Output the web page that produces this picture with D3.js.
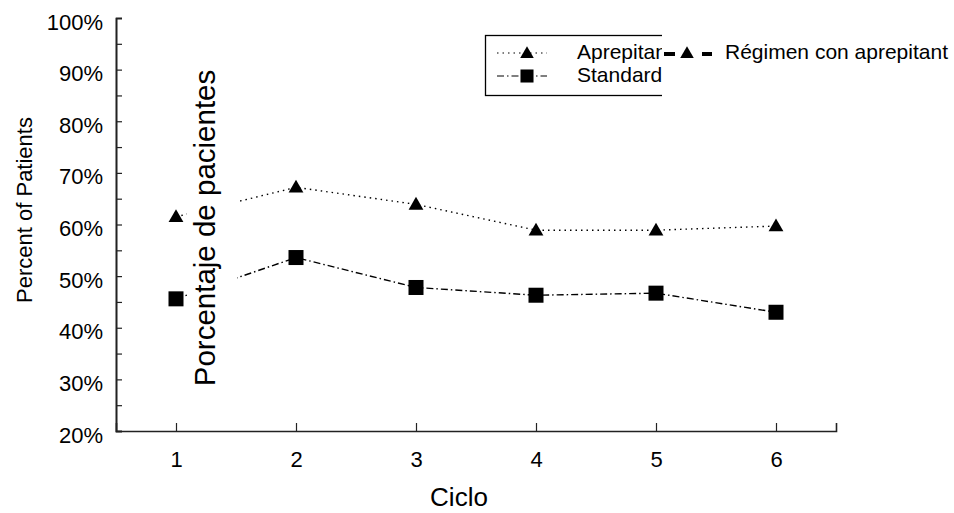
<!DOCTYPE html>
<html>
<head>
<meta charset="utf-8">
<script src="https://cdn.jsdelivr.net/npm/d3@7"></script>
<style>
  body { margin: 0; background: #fff; }
  text { font-family: "Liberation Sans", Arial, sans-serif; fill: #000; }
</style>
</head>
<body>
<script>
var cycles = [1, 2, 3, 4, 5, 6];
var aprepitant = [61.5, 67.2, 63.9, 58.9, 58.9, 59.7];
var standard = [45.6, 53.6, 47.8, 46.3, 46.7, 43.0];
var yMajor = [20, 30, 40, 50, 60, 70, 80, 90, 100];
var yMinor = [25, 35, 45, 55, 65, 75, 85, 95];
var seriesNames = ["Aprepitant", "Standard"];

var w = 954, h = 513;
var margin = { top: 18, right: 118, bottom: 82, left: 116 };

var svg = d3.select("body").append("svg")
    .attr("width", w)
    .attr("height", h);

var xScale = d3.scaleLinear()
    .domain([0.5, 6.5])
    .range([margin.left, w - margin.right]);
var yScale = d3.scaleLinear()
    .domain([20, 100])
    .range([h - margin.bottom, margin.top]);

// y axis: minor ticks then major ticks with labels
svg.append("g")
    .attr("transform", "translate(" + margin.left + ",0)")
    .call(d3.axisLeft(yScale).tickValues(yMinor).tickSize(-6).tickFormat(""));
var yAxis = svg.append("g")
    .attr("transform", "translate(" + margin.left + ",0)")
    .call(d3.axisLeft(yScale).tickValues(yMajor).tickSize(-6).tickPadding(13)
      .tickFormat(function(d) { return d + "%"; }));
yAxis.selectAll("text").attr("font-size", 22).attr("dy", "0.5em")
    .style("font-family", '"Liberation Sans", Arial, sans-serif');

var xAxis = svg.append("g")
    .attr("transform", "translate(0," + yScale(20) + ")")
    .call(d3.axisBottom(xScale).tickValues(cycles).tickSize(-8).tickPadding(20)
      .tickFormat(d3.format("d")));
xAxis.selectAll("text").attr("font-size", 22)
    .style("font-family", '"Liberation Sans", Arial, sans-serif');

svg.selectAll(".domain").attr("stroke", "#222").attr("stroke-width", 1.6);
svg.selectAll(".tick line").attr("stroke", "#222").attr("stroke-width", 1.2);

// axis labels
svg.append("text")
    .attr("transform", "translate(32,210)rotate(-90)")
    .attr("text-anchor", "middle")
    .attr("font-size", 22)
    .text("Percent of Patients");
svg.append("text")
    .attr("x", (xScale(3) + xScale(4)) / 2 - 17)
    .attr("y", 506)
    .attr("text-anchor", "middle")
    .attr("font-size", 26)
    .text("Ciclo");

// lines
var line = d3.line()
    .x(function(d, i) { return xScale(cycles[i]); })
    .y(function(d) { return yScale(d); });

svg.append("path")
    .datum(aprepitant)
    .attr("fill", "none")
    .attr("stroke", "#000")
    .attr("stroke-width", 1.4)
    .attr("stroke-dasharray", "1.5,4")
    .attr("d", line);
svg.append("path")
    .datum(standard)
    .attr("fill", "none")
    .attr("stroke", "#000")
    .attr("stroke-width", 1.4)
    .attr("stroke-dasharray", "7,3,1.5,3")
    .attr("d", line);

var tri = d3.symbol().type(d3.symbolTriangle).size(95);

svg.selectAll(".tri")
    .data(aprepitant)
    .enter()
    .append("path")
    .attr("class", "tri")
    .attr("d", tri)
    .attr("transform", function(d, i) {
      return "translate(" + xScale(cycles[i]) + "," + (yScale(d) + 1) + ")";
    })
    .attr("fill", "#000");

svg.selectAll(".sq")
    .data(standard)
    .enter()
    .append("rect")
    .attr("class", "sq")
    .attr("x", function(d, i) { return xScale(cycles[i]) - 7.5; })
    .attr("y", function(d) { return yScale(d) - 7.5; })
    .attr("width", 15)
    .attr("height", 15)
    .attr("fill", "#000");

// overlaid Spanish y label with white backing
var porc = svg.append("g");
var porcText = porc.append("text")
    .attr("transform", "translate(215,228)rotate(-90)")
    .attr("text-anchor", "middle")
    .attr("font-size", 29.5)
    .text("Porcentaje de pacientes");
var bb = porcText.node().getBBox();
porc.insert("rect", "text")
    .attr("x", 187)
    .attr("y", 228 - bb.width / 2 - 4)
    .attr("width", 50)
    .attr("height", bb.width + 8)
    .attr("fill", "#fff");

// legend
var legend = svg.append("g").attr("transform", "translate(485,35)");
legend.append("rect")
    .attr("x", 0.5).attr("y", 0.5)
    .attr("width", 240).attr("height", 60)
    .attr("fill", "#fff")
    .attr("stroke", "#000")
    .attr("stroke-width", 1.3);

var rows = legend.selectAll(".row")
    .data(seriesNames)
    .enter()
    .append("g")
    .attr("transform", function(d, i) { return "translate(0," + (18 + i * 23) + ")"; });
rows.append("line")
    .attr("x1", 12).attr("x2", 62)
    .attr("stroke", "#000").attr("stroke-width", 1.2)
    .attr("stroke-dasharray", function(d, i) { return i === 0 ? "1.5,4" : "7,3,1.5,3"; });
rows.append("path")
    .attr("d", function(d, i) {
      return i === 0 ? d3.symbol().type(d3.symbolTriangle).size(80)()
                     : d3.symbol().type(d3.symbolSquare).size(170)();
    })
    .attr("transform", function(d, i) { return "translate(42," + (i === 0 ? 1 : 0) + ")"; })
    .attr("fill", "#000");
rows.append("text")
    .attr("x", 92)
    .attr("y", 6)
    .attr("font-size", 21)
    .text(function(d) { return d; });

// overlay covering legend right part
var ov = svg.append("g");
ov.append("rect")
    .attr("x", 662).attr("y", 25)
    .attr("width", w - 662).attr("height", 80)
    .attr("fill", "#fff");
ov.append("line")
    .attr("x1", 664).attr("x2", 712)
    .attr("y1", 54).attr("y2", 54)
    .attr("stroke", "#000").attr("stroke-width", 4)
    .attr("stroke-dasharray", "11,27");
ov.append("path")
    .attr("d", d3.symbol().type(d3.symbolTriangle).size(80)())
    .attr("transform", "translate(687,54)")
    .attr("fill", "#000");
ov.append("text")
    .attr("x", 725)
    .attr("y", 59)
    .attr("font-size", 21)
    .text("Régimen con aprepitant");
</script>
</body>
</html>
